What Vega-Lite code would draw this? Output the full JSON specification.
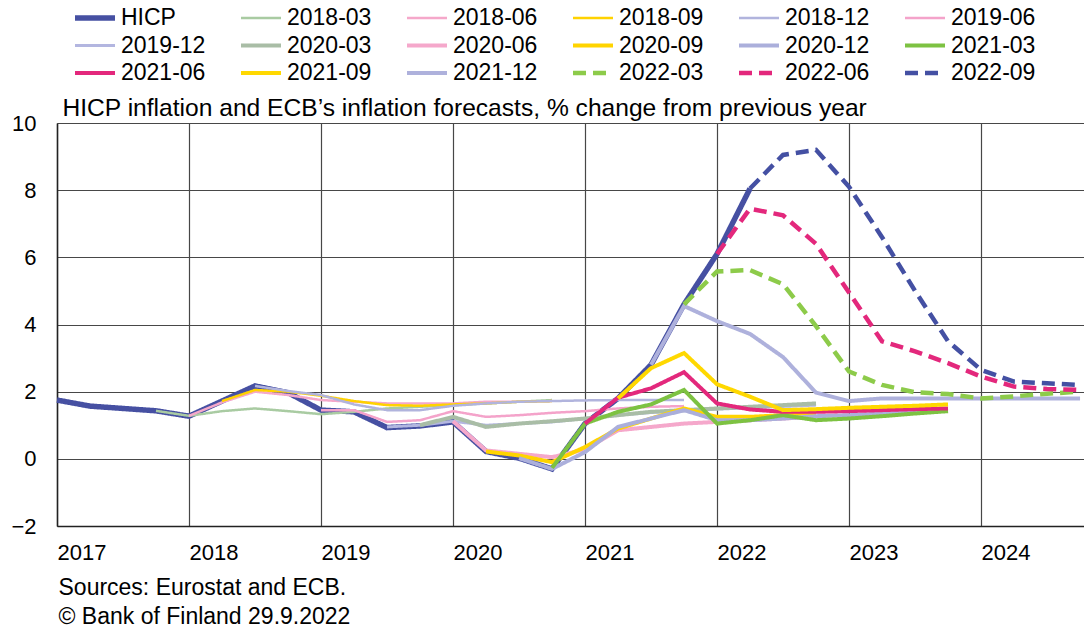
{
  "$schema": "https://vega.github.io/schema/vega-lite/v6.json",
  "width": 1027,
  "height": 403,
  "autosize": {"type": "none"},
  "padding": {"left": 57, "top": 123, "right": 0, "bottom": 105},
  "background": "white",
  "config": {
    "view": {"stroke": null},
    "font": "Liberation Sans",
    "axis": {
      "labelFont": "Liberation Sans",
      "labelFontSize": 22,
      "labelColor": "#000000",
      "ticks": false,
      "gridColor": "#474747",
      "gridWidth": 1.2,
      "gridOpacity": 1,
      "domainColor": "#222222",
      "domainWidth": 1.5,
      "titleFont": "Liberation Sans",
      "titleFontWeight": "normal",
      "titleColor": "#000000"
    },
    "legend": {
      "labelFont": "Liberation Sans",
      "labelFontSize": 23,
      "labelColor": "#000000",
      "symbolType": "stroke",
      "symbolSize": 1600,
      "labelOffset": 3,
      "columns": 6,
      "direction": "horizontal",
      "columnPadding": 32,
      "rowPadding": 1.5,
      "clipHeight": 26,
      "gridAlign": "all",
      "labelLimit": 0
    }
  },
  "data": {"values": [
    {"s":"HICP","t":2017,"v":1.75},{"s":"HICP","t":2017.25,"v":1.57},{"s":"HICP","t":2017.5,"v":1.5},{"s":"HICP","t":2017.75,"v":1.43},
    {"s":"HICP","t":2018,"v":1.27},{"s":"HICP","t":2018.25,"v":1.72},{"s":"HICP","t":2018.5,"v":2.17},{"s":"HICP","t":2018.75,"v":1.97},
    {"s":"HICP","t":2019,"v":1.45},{"s":"HICP","t":2019.25,"v":1.4},{"s":"HICP","t":2019.5,"v":0.93},{"s":"HICP","t":2019.75,"v":0.98},
    {"s":"HICP","t":2020,"v":1.1},{"s":"HICP","t":2020.25,"v":0.22},{"s":"HICP","t":2020.5,"v":0.02},{"s":"HICP","t":2020.75,"v":-0.3},
    {"s":"HICP","t":2021,"v":1.05},{"s":"HICP","t":2021.25,"v":1.8},{"s":"HICP","t":2021.5,"v":2.8},{"s":"HICP","t":2021.75,"v":4.6},
    {"s":"HICP","t":2022,"v":6.1},{"s":"HICP","t":2022.25,"v":8.05},

    {"s":"2018-03","t":2017.75,"v":1.43},{"s":"2018-03","t":2018,"v":1.28},{"s":"2018-03","t":2018.25,"v":1.42},{"s":"2018-03","t":2018.5,"v":1.5},
    {"s":"2018-03","t":2018.75,"v":1.42},{"s":"2018-03","t":2019,"v":1.33},{"s":"2018-03","t":2019.25,"v":1.4},{"s":"2018-03","t":2019.5,"v":1.5},
    {"s":"2018-03","t":2019.75,"v":1.55},{"s":"2018-03","t":2020,"v":1.6},{"s":"2018-03","t":2020.25,"v":1.65},{"s":"2018-03","t":2020.5,"v":1.7},
    {"s":"2018-03","t":2020.75,"v":1.75},

    {"s":"2018-06","t":2018,"v":1.28},{"s":"2018-06","t":2018.25,"v":1.68},{"s":"2018-06","t":2018.5,"v":2.0},{"s":"2018-06","t":2018.75,"v":1.9},
    {"s":"2018-06","t":2019,"v":1.75},{"s":"2018-06","t":2019.25,"v":1.7},{"s":"2018-06","t":2019.5,"v":1.65},{"s":"2018-06","t":2019.75,"v":1.65},
    {"s":"2018-06","t":2020,"v":1.65},{"s":"2018-06","t":2020.25,"v":1.7},{"s":"2018-06","t":2020.5,"v":1.7},{"s":"2018-06","t":2020.75,"v":1.72},

    {"s":"2018-09","t":2018.25,"v":1.72},{"s":"2018-09","t":2018.5,"v":2.05},{"s":"2018-09","t":2018.75,"v":2.0},{"s":"2018-09","t":2019,"v":1.88},
    {"s":"2018-09","t":2019.25,"v":1.72},{"s":"2018-09","t":2019.5,"v":1.6},{"s":"2018-09","t":2019.75,"v":1.58},{"s":"2018-09","t":2020,"v":1.62},
    {"s":"2018-09","t":2020.25,"v":1.65},{"s":"2018-09","t":2020.5,"v":1.7},{"s":"2018-09","t":2020.75,"v":1.72},

    {"s":"2018-12","t":2018.5,"v":2.17},{"s":"2018-12","t":2018.75,"v":2.02},{"s":"2018-12","t":2019,"v":1.9},{"s":"2018-12","t":2019.25,"v":1.62},
    {"s":"2018-12","t":2019.5,"v":1.45},{"s":"2018-12","t":2019.75,"v":1.45},{"s":"2018-12","t":2020,"v":1.58},{"s":"2018-12","t":2020.25,"v":1.65},
    {"s":"2018-12","t":2020.5,"v":1.7},{"s":"2018-12","t":2020.75,"v":1.72},{"s":"2018-12","t":2021,"v":1.74},{"s":"2018-12","t":2021.25,"v":1.75},
    {"s":"2018-12","t":2021.5,"v":1.75},{"s":"2018-12","t":2021.75,"v":1.75},

    {"s":"2019-06","t":2019,"v":1.45},{"s":"2019-06","t":2019.25,"v":1.45},{"s":"2019-06","t":2019.5,"v":1.1},{"s":"2019-06","t":2019.75,"v":1.15},
    {"s":"2019-06","t":2020,"v":1.42},{"s":"2019-06","t":2020.25,"v":1.25},{"s":"2019-06","t":2020.5,"v":1.3},{"s":"2019-06","t":2020.75,"v":1.37},
    {"s":"2019-06","t":2021,"v":1.42},{"s":"2019-06","t":2021.25,"v":1.5},{"s":"2019-06","t":2021.5,"v":1.55},{"s":"2019-06","t":2021.75,"v":1.57},

    {"s":"2019-12","t":2019.5,"v":0.95},{"s":"2019-12","t":2019.75,"v":1.0},{"s":"2019-12","t":2020,"v":1.12},{"s":"2019-12","t":2020.25,"v":1.0},
    {"s":"2019-12","t":2020.5,"v":1.05},{"s":"2019-12","t":2020.75,"v":1.1},{"s":"2019-12","t":2021,"v":1.2},{"s":"2019-12","t":2021.25,"v":1.3},
    {"s":"2019-12","t":2021.5,"v":1.38},{"s":"2019-12","t":2021.75,"v":1.43},{"s":"2019-12","t":2022,"v":1.48},{"s":"2019-12","t":2022.25,"v":1.52},
    {"s":"2019-12","t":2022.5,"v":1.56},{"s":"2019-12","t":2022.75,"v":1.6},

    {"s":"2020-03","t":2019.75,"v":1.0},{"s":"2020-03","t":2020,"v":1.25},{"s":"2020-03","t":2020.25,"v":0.95},{"s":"2020-03","t":2020.5,"v":1.05},
    {"s":"2020-03","t":2020.75,"v":1.12},{"s":"2020-03","t":2021,"v":1.2},{"s":"2020-03","t":2021.25,"v":1.3},{"s":"2020-03","t":2021.5,"v":1.4},
    {"s":"2020-03","t":2021.75,"v":1.45},{"s":"2020-03","t":2022,"v":1.5},{"s":"2020-03","t":2022.25,"v":1.55},{"s":"2020-03","t":2022.5,"v":1.6},
    {"s":"2020-03","t":2022.75,"v":1.65},

    {"s":"2020-06","t":2020,"v":1.12},{"s":"2020-06","t":2020.25,"v":0.25},{"s":"2020-06","t":2020.5,"v":0.15},{"s":"2020-06","t":2020.75,"v":0.05},
    {"s":"2020-06","t":2021,"v":0.28},{"s":"2020-06","t":2021.25,"v":0.85},{"s":"2020-06","t":2021.5,"v":0.95},{"s":"2020-06","t":2021.75,"v":1.05},
    {"s":"2020-06","t":2022,"v":1.1},{"s":"2020-06","t":2022.25,"v":1.15},{"s":"2020-06","t":2022.5,"v":1.2},{"s":"2020-06","t":2022.75,"v":1.25},

    {"s":"2020-09","t":2020.25,"v":0.22},{"s":"2020-09","t":2020.5,"v":0.1},{"s":"2020-09","t":2020.75,"v":-0.1},{"s":"2020-09","t":2021,"v":0.35},
    {"s":"2020-09","t":2021.25,"v":0.9},{"s":"2020-09","t":2021.5,"v":1.2},{"s":"2020-09","t":2021.75,"v":1.5},{"s":"2020-09","t":2022,"v":1.25},
    {"s":"2020-09","t":2022.25,"v":1.25},{"s":"2020-09","t":2022.5,"v":1.3},{"s":"2020-09","t":2022.75,"v":1.35},

    {"s":"2020-12","t":2020.5,"v":0.02},{"s":"2020-12","t":2020.75,"v":-0.3},{"s":"2020-12","t":2021,"v":0.2},{"s":"2020-12","t":2021.25,"v":0.95},
    {"s":"2020-12","t":2021.5,"v":1.2},{"s":"2020-12","t":2021.75,"v":1.45},{"s":"2020-12","t":2022,"v":1.15},{"s":"2020-12","t":2022.25,"v":1.15},
    {"s":"2020-12","t":2022.5,"v":1.2},{"s":"2020-12","t":2022.75,"v":1.27},{"s":"2020-12","t":2023,"v":1.3},{"s":"2020-12","t":2023.25,"v":1.35},
    {"s":"2020-12","t":2023.5,"v":1.4},{"s":"2020-12","t":2023.75,"v":1.43},

    {"s":"2021-03","t":2020.75,"v":-0.27},{"s":"2021-03","t":2021,"v":1.05},{"s":"2021-03","t":2021.25,"v":1.4},{"s":"2021-03","t":2021.5,"v":1.62},
    {"s":"2021-03","t":2021.75,"v":2.05},{"s":"2021-03","t":2022,"v":1.05},{"s":"2021-03","t":2022.25,"v":1.15},{"s":"2021-03","t":2022.5,"v":1.3},
    {"s":"2021-03","t":2022.75,"v":1.15},{"s":"2021-03","t":2023,"v":1.2},{"s":"2021-03","t":2023.25,"v":1.27},{"s":"2021-03","t":2023.5,"v":1.35},
    {"s":"2021-03","t":2023.75,"v":1.42},

    {"s":"2021-06","t":2021,"v":1.05},{"s":"2021-06","t":2021.25,"v":1.82},{"s":"2021-06","t":2021.5,"v":2.1},{"s":"2021-06","t":2021.75,"v":2.58},
    {"s":"2021-06","t":2022,"v":1.65},{"s":"2021-06","t":2022.25,"v":1.47},{"s":"2021-06","t":2022.5,"v":1.4},{"s":"2021-06","t":2022.75,"v":1.4},
    {"s":"2021-06","t":2023,"v":1.42},{"s":"2021-06","t":2023.25,"v":1.45},{"s":"2021-06","t":2023.5,"v":1.48},{"s":"2021-06","t":2023.75,"v":1.5},

    {"s":"2021-09","t":2021.25,"v":1.8},{"s":"2021-09","t":2021.5,"v":2.7},{"s":"2021-09","t":2021.75,"v":3.15},{"s":"2021-09","t":2022,"v":2.22},
    {"s":"2021-09","t":2022.25,"v":1.85},{"s":"2021-09","t":2022.5,"v":1.45},{"s":"2021-09","t":2022.75,"v":1.48},{"s":"2021-09","t":2023,"v":1.52},
    {"s":"2021-09","t":2023.25,"v":1.55},{"s":"2021-09","t":2023.5,"v":1.58},{"s":"2021-09","t":2023.75,"v":1.62},

    {"s":"2021-12","t":2021.5,"v":2.8},{"s":"2021-12","t":2021.75,"v":4.55},{"s":"2021-12","t":2022,"v":4.1},{"s":"2021-12","t":2022.25,"v":3.72},
    {"s":"2021-12","t":2022.5,"v":3.03},{"s":"2021-12","t":2022.75,"v":1.97},{"s":"2021-12","t":2023,"v":1.72},{"s":"2021-12","t":2023.25,"v":1.8},
    {"s":"2021-12","t":2023.5,"v":1.8},{"s":"2021-12","t":2023.75,"v":1.8},{"s":"2021-12","t":2024,"v":1.8},{"s":"2021-12","t":2024.25,"v":1.8},
    {"s":"2021-12","t":2024.5,"v":1.8},{"s":"2021-12","t":2024.75,"v":1.8},

    {"s":"2022-03","t":2021.75,"v":4.6},{"s":"2022-03","t":2022,"v":5.58},{"s":"2022-03","t":2022.25,"v":5.62},{"s":"2022-03","t":2022.5,"v":5.2},
    {"s":"2022-03","t":2022.75,"v":3.95},{"s":"2022-03","t":2023,"v":2.6},{"s":"2022-03","t":2023.25,"v":2.2},{"s":"2022-03","t":2023.5,"v":1.98},
    {"s":"2022-03","t":2023.75,"v":1.93},{"s":"2022-03","t":2024,"v":1.8},{"s":"2022-03","t":2024.25,"v":1.86},{"s":"2022-03","t":2024.5,"v":1.94},
    {"s":"2022-03","t":2024.75,"v":2.0},

    {"s":"2022-06","t":2022,"v":6.1},{"s":"2022-06","t":2022.25,"v":7.45},{"s":"2022-06","t":2022.5,"v":7.25},{"s":"2022-06","t":2022.75,"v":6.4},
    {"s":"2022-06","t":2023,"v":4.95},{"s":"2022-06","t":2023.25,"v":3.5},{"s":"2022-06","t":2023.5,"v":3.2},{"s":"2022-06","t":2023.75,"v":2.85},
    {"s":"2022-06","t":2024,"v":2.45},{"s":"2022-06","t":2024.25,"v":2.15},{"s":"2022-06","t":2024.5,"v":2.08},{"s":"2022-06","t":2024.75,"v":2.05},

    {"s":"2022-09","t":2022.25,"v":8.05},{"s":"2022-09","t":2022.5,"v":9.05},{"s":"2022-09","t":2022.75,"v":9.2},{"s":"2022-09","t":2023,"v":8.1},
    {"s":"2022-09","t":2023.25,"v":6.6},{"s":"2022-09","t":2023.5,"v":5.0},{"s":"2022-09","t":2023.75,"v":3.5},{"s":"2022-09","t":2024,"v":2.65},
    {"s":"2022-09","t":2024.25,"v":2.3},{"s":"2022-09","t":2024.5,"v":2.25},{"s":"2022-09","t":2024.75,"v":2.2}
  ]},
  "encoding": {
    "x": {
      "field": "t", "type": "quantitative",
      "scale": {"domain": [2017, 2024.78], "nice": false, "zero": false},
      "axis": {
        "values": [2017, 2018, 2019, 2020, 2021, 2022, 2023, 2024],
        "format": "d",
        "grid": true,
        "labelAlign": "left",
        "labelBaseline": "top",
        "labelPadding": 16,
        "labelFlush": false,
        "labelOverlap": false,
        "title": ["Sources: Eurostat and ECB.", "© Bank of Finland 29.9.2022"],
        "titleX": 1,
        "titleY": 50,
        "titleAlign": "left",
        "titleAnchor": "start",
        "titleBaseline": "top",
        "titleFontSize": 23,
        "titleLineHeight": 29
      }
    },
    "y": {
      "field": "v", "type": "quantitative",
      "scale": {"domain": [-2, 10], "nice": false, "zero": false},
      "axis": {
        "values": [-2, 0, 2, 4, 6, 8, 10],
        "grid": true,
        "labelPadding": 21,
        "title": "HICP inflation and ECB’s inflation forecasts, % change from previous year",
        "titleAngle": 0,
        "titleX": 5,
        "titleY": -15,
        "titleAlign": "left",
        "titleBaseline": "middle",
        "titleFontSize": 24.6
      }
    },
    "color": {
      "field": "s", "type": "nominal",
      "scale": {
        "domain": ["HICP","2018-03","2018-06","2018-09","2018-12","2019-06","2019-12","2020-03","2020-06","2020-09","2020-12","2021-03","2021-06","2021-09","2021-12","2022-03","2022-06","2022-09"],
        "range": ["#4650A2","#A9CBA2","#F5A8CA","#FFD200","#B1B4DD","#F4A3CA","#B3B6E0","#A9BDA6","#F5A8CB","#FFD400","#ABAFDB","#7DC242","#E3287C","#FFD800","#AEB1DC","#8DCB4A","#E3287C","#4450A3"]
      },
      "legend": {"title": null, "orient": "none", "legendX": 15, "legendY": -118}
    },
    "strokeDash": {
      "field": "s", "type": "nominal",
      "scale": {
        "domain": ["HICP","2018-03","2018-06","2018-09","2018-12","2019-06","2019-12","2020-03","2020-06","2020-09","2020-12","2021-03","2021-06","2021-09","2021-12","2022-03","2022-06","2022-09"],
        "range": [[1,0],[1,0],[1,0],[1,0],[1,0],[1,0],[1,0],[1,0],[1,0],[1,0],[1,0],[1,0],[1,0],[1,0],[1,0],[13,7],[13,7],[13,7]]
      }
    },
    "strokeWidth": {
      "field": "s", "type": "nominal",
      "scale": {
        "type": "ordinal",
        "domain": ["HICP","2018-03","2018-06","2018-09","2018-12","2019-06","2019-12","2020-03","2020-06","2020-09","2020-12","2021-03","2021-06","2021-09","2021-12","2022-03","2022-06","2022-09"],
        "range": [5.5,2.5,2.5,2.5,2.5,2.5,3,4,4,4,4,4,4,4,4,4.5,4.5,4.5]
      }
    }
  },
  "layer": [
    {"transform": [{"filter": "datum.s === 'HICP'"}], "mark": {"type": "line"}},
    {"transform": [{"filter": "datum.s !== 'HICP'"}], "mark": {"type": "line"}}
  ]
}
